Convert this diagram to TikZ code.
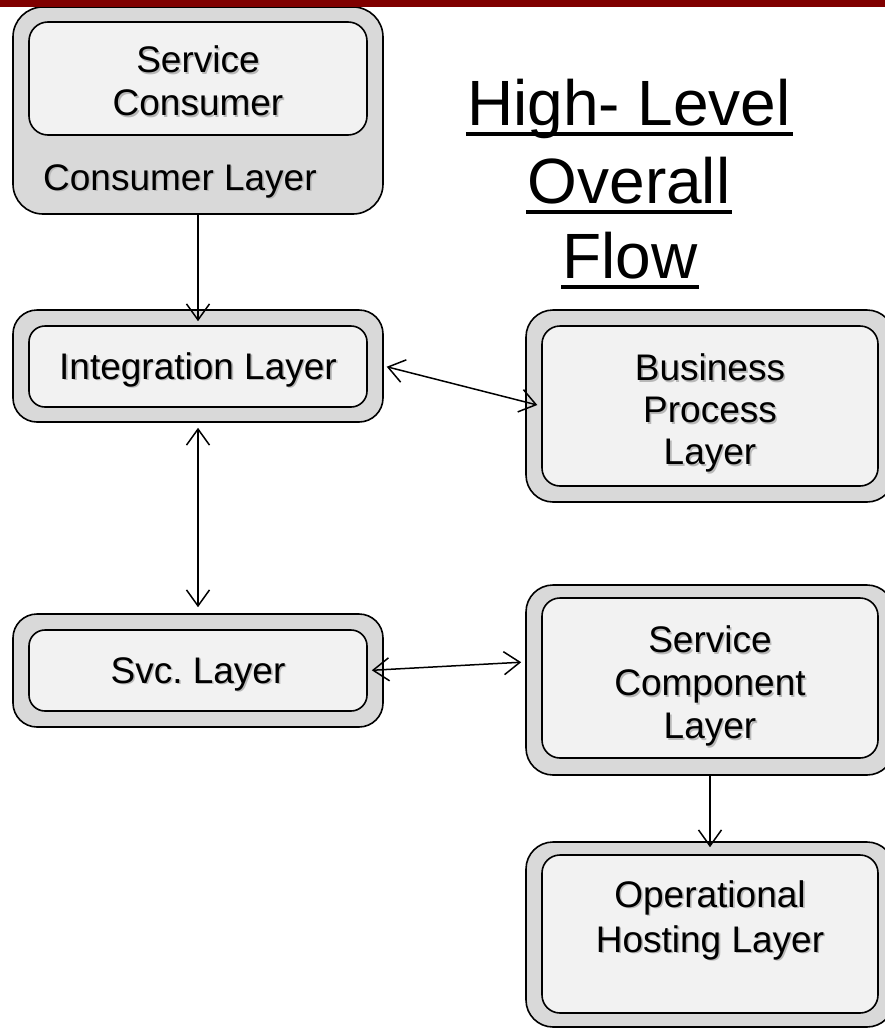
\documentclass[tikz,border=0pt]{standalone}
\usepackage{fontspec}
\setmainfont{Liberation Sans}
\usetikzlibrary{arrows.meta}
\frenchspacing
\definecolor{bandred}{RGB}{128,0,0}
\definecolor{outergrey}{RGB}{217,217,217}
\definecolor{innergrey}{RGB}{242,242,242}
% text with a soft drop shadow
\newcommand\shd[1]{\makebox[0pt][l]{\kern1.6pt\raisebox{-1.6pt}{\textcolor{black!28}{#1}}}#1}
\tikzset{
  outerbox/.style={draw=black, line width=1.6pt, fill=outergrey, rounded corners=24pt, inner sep=0pt},
  innerbox/.style={draw=black, line width=1.6pt, fill=innergrey, rounded corners=16pt, inner sep=0pt},
  boxtext/.style={inner sep=0pt, align=center, font=\fontsize{37}{43}\selectfont},
  titletext/.style={inner sep=0pt, font=\fontsize{64}{77}\selectfont},
  uline/.style={line width=4pt},
  barb/.tip={Straight Barb[length=16pt,width=23pt,line width=1.5pt]},
  flow/.style={line width=1.5pt, -barb},
  bothflow/.style={line width=1.5pt, barb-barb}
}
\begin{document}
\begin{tikzpicture}[x=1pt,y=-1pt]
\useasboundingbox (0,0) rectangle (885,1028);
\clip (0,0) rectangle (885,1028);

% consumer layer
\node[outerbox, rounded corners=30pt, minimum width=370pt, minimum height=207pt] (cons) at (198,110.5) {};
\node[innerbox, rounded corners=19pt, minimum width=338pt, minimum height=113pt] (consin) at (198,78.5) {};
\node[boxtext] (constxt) at (198,82) {\shd{Service}\\\shd{Consumer}};
\node[boxtext, anchor=base west] (conslbl) at (43,190) {\shd{Consumer Layer}};

% integration layer
\node[outerbox, minimum width=370pt, minimum height=112pt] (integ) at (198,366) {};
\node[innerbox, minimum width=338pt, minimum height=81pt] (integin) at (198,366.5) {};
\node[boxtext, anchor=base] (integtxt) at (198,379) {\shd{Integration Layer}};

% service layer
\node[outerbox, minimum width=370pt, minimum height=113pt] (svc) at (198,670.5) {};
\node[innerbox, minimum width=338pt, minimum height=81pt] (svcin) at (198,670.5) {};
\node[boxtext, anchor=base] (svctxt) at (198,683) {\shd{Svc. Layer}};

% business process layer
\node[outerbox, rounded corners=27pt, minimum width=368pt, minimum height=192pt] (bpl) at (710,406) {};
\node[innerbox, rounded corners=18pt, minimum width=336pt, minimum height=160pt] (bplin) at (710,406) {};
\node[boxtext, font=\fontsize{37}{42}\selectfont] (bpltxt) at (710,414) {\shd{Business}\\\shd{Process}\\\shd{Layer}};

% service component layer
\node[outerbox, rounded corners=27pt, minimum width=368pt, minimum height=190pt] (scl) at (710,680) {};
\node[innerbox, rounded corners=18pt, minimum width=336pt, minimum height=160pt] (sclin) at (710,678) {};
\node[boxtext] (scltxt) at (710,687) {\shd{Service}\\\shd{Component}\\\shd{Layer}};

% operational hosting layer
\node[outerbox, rounded corners=27pt, minimum width=368pt, minimum height=185pt] (ohl) at (710,934.5) {};
\node[innerbox, rounded corners=18pt, minimum width=336pt, minimum height=158pt] (ohlin) at (710,934) {};
\node[boxtext, font=\fontsize{37}{45}\selectfont] (ohltxt) at (710,921) {\shd{Operational}\\\shd{Hosting Layer}};

% title
\node[titletext, anchor=base] (t1) at (629,125) {High- Level};
\node[titletext, anchor=base] (t2) at (629,203) {Overall};
\node[titletext, anchor=base] (t3) at (630,278) {Flow};
\draw[uline] ([xshift=-1pt,yshift=-9pt]t1.base west) -- ([xshift=2pt,yshift=-9pt]t1.base east);
\draw[uline] ([xshift=-1pt,yshift=-9pt]t2.base west) -- ([xshift=1pt,yshift=-9pt]t2.base east);
\draw[uline] ([xshift=-1pt,yshift=-9pt]t3.base west) -- ([xshift=1pt,yshift=-9pt]t3.base east);

% connectors
\draw[flow, shorten >=4pt] (cons.south) -- (integin.north);
\draw[bothflow, shorten <=5pt, shorten >=6pt] (integ.south) -- (svc.north);
\draw[bothflow, shorten <=3pt, shorten >=4pt] (integ.east) -- (bplin.west);
\draw[bothflow, shorten <=4pt, shorten >=4pt] (svcin.east) -- ([yshift=18pt]scl.west);
\draw[flow, shorten >=7pt] (scl.south) -- (ohlin.north);

% top band
\fill[bandred] (0,0) rectangle (885,7);
\end{tikzpicture}
\end{document}
